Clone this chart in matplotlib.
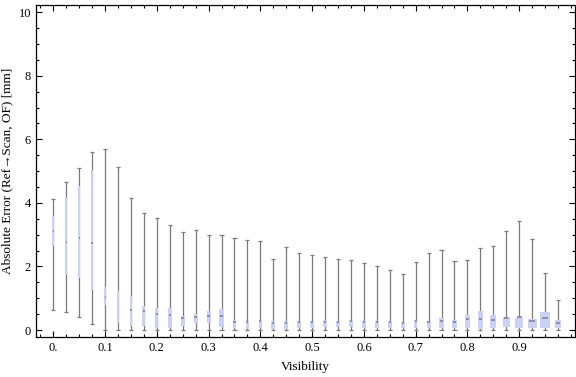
import numpy as np
import matplotlib.pyplot as plt
from matplotlib.ticker import MultipleLocator, FixedLocator

plt.rcParams['font.family'] = ['Liberation Serif', 'DejaVu Serif']

# bin centres (visibility)
visibility = [0.025 * i for i in range(40)]

# whisker ends, quartiles and medians
w_low = [0.63, 0.56, 0.42, 0.18, 0.0, 0.0, 0.0, 0.0, 0.0, 0.0,
         0.0, 0.0, 0.0, 0.0, 0.0, 0.0, 0.0, 0.0, 0.0, 0.0,
         0.0, 0.0, 0.0, 0.0, 0.0, 0.0, 0.0, 0.0, 0.0, 0.0,
         0.0, 0.0, 0.0, 0.0, 0.0, 0.0, 0.0, 0.0, 0.0, 0.0]
q1 = [2.64, 1.75, 1.65, 1.26, 0.79, 0.21, 0.13, 0.13, 0.07, 0.06,
      0.14, 0.21, 0.23, 0.10, 0.07, 0.03, 0.05, 0.03, 0.03, 0.07,
      0.07, 0.10, 0.10, 0.10, 0.07, 0.07, 0.07, 0.07, 0.07, 0.07,
      0.07, 0.07, 0.07, 0.04, 0.07, 0.10, 0.07, 0.07, 0.07, 0.07]
median = [3.13, 2.78, 2.89, 2.73, 1.05, 0.84, 0.63, 0.61, 0.50, 0.46,
          0.37, 0.42, 0.45, 0.45, 0.26, 0.25, 0.27, 0.23, 0.22, 0.25,
          0.24, 0.25, 0.26, 0.28, 0.26, 0.25, 0.25, 0.23, 0.27, 0.25,
          0.30, 0.26, 0.36, 0.36, 0.32, 0.39, 0.42, 0.27, 0.39, 0.21]
q3 = [3.59, 4.17, 4.53, 5.02, 1.34, 1.23, 1.07, 0.76, 0.68, 0.69,
      0.44, 0.50, 0.60, 0.66, 0.31, 0.28, 0.31, 0.28, 0.28, 0.28,
      0.28, 0.31, 0.28, 0.31, 0.29, 0.28, 0.28, 0.26, 0.31, 0.28,
      0.38, 0.31, 0.47, 0.60, 0.47, 0.41, 0.39, 0.35, 0.57, 0.31]
w_high = [4.12, 4.66, 5.09, 5.60, 5.70, 5.13, 4.14, 3.67, 3.52, 3.29,
          3.10, 3.14, 2.98, 2.98, 2.91, 2.82, 2.79, 2.22, 2.60, 2.42,
          2.35, 2.29, 2.22, 2.19, 2.11, 2.03, 1.88, 1.76, 2.14, 2.42,
          2.52, 2.17, 2.20, 2.58, 2.63, 3.13, 3.42, 2.85, 1.81, 0.96]
# relative box widths (as drawn in the chart, in units of visibility)
box_w = [0.004, 0.004, 0.004, 0.004, 0.003, 0.003, 0.004, 0.006, 0.006, 0.007,
         0.008, 0.008, 0.008, 0.009, 0.007, 0.007, 0.007, 0.007, 0.007, 0.007,
         0.007, 0.007, 0.007, 0.007, 0.007, 0.007, 0.007, 0.007, 0.007, 0.008,
         0.008, 0.009, 0.009, 0.009, 0.012, 0.013, 0.016, 0.017, 0.021, 0.012]

x = np.array(visibility)
box_w = np.array(box_w)

fig = plt.figure(figsize=(5.76, 3.77), dpi=100)
ax = fig.add_axes([0.0625, 0.106, 0.935, 0.881])

whisk = '#7a7a7a'
ax.vlines(x, w_low, w_high, color=whisk, lw=0.9, zorder=1)
cap = 0.008
ax.hlines(w_high, x - cap / 2, x + cap / 2, color=whisk, lw=0.9, zorder=1)
ax.hlines(w_low, x - cap / 2, x + cap / 2, color=whisk, lw=0.9, zorder=1)
ax.bar(x, np.array(q3) - np.array(q1), bottom=q1, width=box_w,
       color='#cad1f5', edgecolor='none', zorder=2)
ax.hlines(median, x - box_w * 0.3, x + box_w * 0.3, color='#8e90a8', lw=1.4, zorder=3)

ax.set_xlim(-0.0334, 1.007)
ax.set_ylim(-0.22, 10.23)

ax.xaxis.set_major_locator(FixedLocator([0.1 * i for i in range(10)]))
ax.set_xticklabels(['0.'] + ['%.1f' % (0.1 * i) for i in range(1, 10)])
ax.xaxis.set_minor_locator(MultipleLocator(0.025))
ax.yaxis.set_major_locator(MultipleLocator(2))
ax.yaxis.set_minor_locator(MultipleLocator(0.5))
ax.tick_params(which='both', direction='in', top=True, right=True, labelsize=9, width=0.8)
ax.tick_params(which='major', length=4.5)
ax.tick_params(which='minor', length=2.5)
for s in ax.spines.values():
    s.set_linewidth(0.9)

ax.set_xlabel('Visibility', fontsize=9.5, labelpad=5)
ax.set_ylabel('Absolute Error (Ref\u2192Scan, OF) [mm]', fontsize=9.5, labelpad=4)

fig.savefig('out.png', dpi=100)
